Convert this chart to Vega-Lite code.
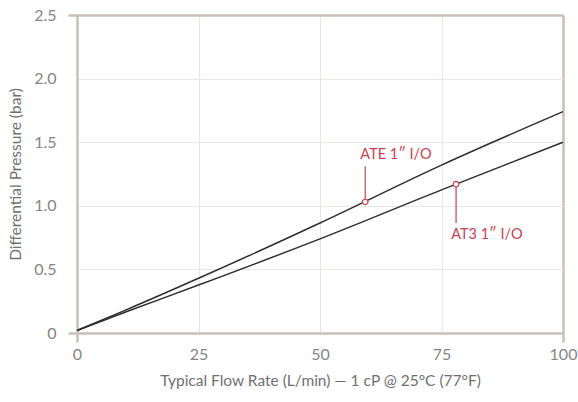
{
  "$schema": "https://vega.github.io/schema/vega-lite/v6.json",
  "width": 486,
  "height": 318,
  "autosize": {"type": "none"},
  "padding": {"left": 77, "top": 15, "right": 15, "bottom": 69},
  "background": "white",
  "config": {
    "view": {"stroke": null},
    "font": "Lato",
    "axis": {
      "labelFont": "Lato",
      "titleFont": "Lato",
      "labelFontSize": 16,
      "titleFontSize": 15.5,
      "titleFontWeight": "normal",
      "labelColor": "#858585",
      "titleColor": "#707070",
      "domainColor": "#c9bfb9",
      "domainWidth": 2.5,
      "tickSize": 9,
      "tickWidth": 2.5,
      "labelFlush": false
    }
  },
  "datasets": {
    "curves": [
      {"series": "ATE 1\" I/O", "flow": 0, "dp": 0.02},
      {"series": "ATE 1\" I/O", "flow": 10, "dp": 0.18},
      {"series": "ATE 1\" I/O", "flow": 25, "dp": 0.43},
      {"series": "ATE 1\" I/O", "flow": 50, "dp": 0.865},
      {"series": "ATE 1\" I/O", "flow": 75, "dp": 1.32},
      {"series": "ATE 1\" I/O", "flow": 100, "dp": 1.74},
      {"series": "AT3 1\" I/O", "flow": 0, "dp": 0.02},
      {"series": "AT3 1\" I/O", "flow": 10, "dp": 0.165},
      {"series": "AT3 1\" I/O", "flow": 25, "dp": 0.377},
      {"series": "AT3 1\" I/O", "flow": 50, "dp": 0.74},
      {"series": "AT3 1\" I/O", "flow": 75, "dp": 1.125},
      {"series": "AT3 1\" I/O", "flow": 100, "dp": 1.5}
    ],
    "notes": [
      {"label": "ATE 1″ I/O", "flow": 59.3, "dp": 1.03, "lead": 1.31, "tx": 58.3, "ty": 1.40},
      {"label": "AT3 1″ I/O", "flow": 78.0, "dp": 1.17, "lead": 0.865, "tx": 77.0, "ty": 0.77}
    ]
  },
  "layer": [
    {
      "data": {"name": "curves"},
      "mark": {"type": "line", "color": "#2e2e2e", "strokeWidth": 1.5, "interpolate": "monotone"},
      "encoding": {
        "x": {
          "field": "flow", "type": "quantitative",
          "scale": {"domain": [0, 100], "nice": false},
          "axis": {
            "values": [0, 25, 50, 75, 100],
            "title": "Typical Flow Rate (L/min) — 1 cP @ 25°C (77°F)",
            "titlePadding": 11,
            "labelPadding": 4,
            "tickColor": {"condition": {"test": "datum.value === 0 || datum.value === 100", "value": "#c9bfb9"}, "value": "transparent"},
            "gridColor": {"condition": {"test": "datum.value === 100", "value": "#c9bfb9"}, "value": "#ece6e2"},
            "gridWidth": {"condition": {"test": "datum.value === 100", "value": 2.5}, "value": 1}
          }
        },
        "y": {
          "field": "dp", "type": "quantitative",
          "scale": {"domain": [0, 2.5], "nice": false},
          "axis": {
            "values": [0, 0.5, 1, 1.5, 2, 2.5],
            "labelExpr": "datum.value === 0 ? '0' : format(datum.value, '.1f')",
            "title": "Differential Pressure (bar)",
            "titlePadding": 10,
            "labelPadding": 12,
            "tickColor": {"condition": {"test": "datum.value === 0 || datum.value === 2.5", "value": "#c9bfb9"}, "value": "transparent"},
            "gridColor": {"condition": {"test": "datum.value === 2.5", "value": "#c9bfb9"}, "value": "#ece6e2"},
            "gridWidth": {"condition": {"test": "datum.value === 2.5", "value": 2.5}, "value": 1}
          }
        },
        "detail": {"field": "series"}
      }
    },
    {
      "data": {"name": "notes"},
      "mark": {"type": "rule", "color": "#c9414f", "strokeWidth": 1.2},
      "encoding": {
        "x": {"field": "flow", "type": "quantitative"},
        "y": {"field": "dp", "type": "quantitative"},
        "y2": {"field": "lead"}
      }
    },
    {
      "data": {"name": "notes"},
      "mark": {"type": "point", "shape": "circle", "filled": true, "fill": "white", "stroke": "#c9414f", "strokeWidth": 1.2, "size": 30, "opacity": 1},
      "encoding": {
        "x": {"field": "flow", "type": "quantitative"},
        "y": {"field": "dp", "type": "quantitative"}
      }
    },
    {
      "data": {"name": "notes"},
      "mark": {"type": "text", "color": "#c9414f", "fontSize": 14.5, "font": "Lato", "align": "left", "baseline": "middle"},
      "encoding": {
        "x": {"field": "tx", "type": "quantitative"},
        "y": {"field": "ty", "type": "quantitative"},
        "text": {"field": "label"}
      }
    }
  ]
}
